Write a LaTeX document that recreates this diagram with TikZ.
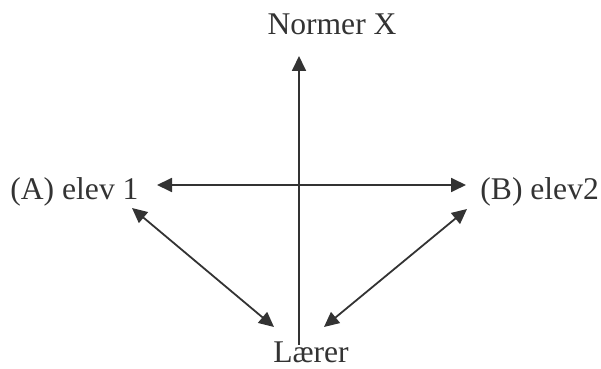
\documentclass[tikz,border=0pt]{standalone}
\usepackage{fontspec}
\setmainfont{Liberation Serif}
\usepackage{tikz}
\usetikzlibrary{arrows.meta}
\definecolor{ink}{HTML}{333333}

\begin{document}
\begin{tikzpicture}
[
    x = 0.5pt, y = -0.5pt,
    label/.style={inner sep = 0pt, text = ink, font = \fontsize{15.8}{19}\selectfont},
    arrow/.style={draw = ink, line width = 0.9pt, {Triangle[length=7.5pt, width=7pt]}-{Triangle[length=7.5pt, width=7pt]}},
    uparrow/.style={draw = ink, line width = 0.9pt, -{Triangle[length=7.5pt, width=7pt]}},
]
\useasboundingbox (0,0) rectangle (601,369);

% Labels
\node[label, anchor = base] (normer) at (332,35) {Normer X};
\node[label, anchor = base west] (elevA) at (10,200) {(A) elev 1};
\node[label, anchor = base west] (elevB) at (480,200) {(B) elev2};
\node[label, anchor = base] (laerer) at (311,363) {Lærer};

% Arrow ends
\coordinate (vbot) at (299,345);
\coordinate (vtop) at (299,56);
\coordinate (hleft) at (157,185);
\coordinate (hright) at (466,185);
\coordinate (aend) at (132,208);
\coordinate (lleft) at (274,327);
\coordinate (lright) at (324,327);
\coordinate (bend) at (467,209);

\draw[uparrow] (vbot) -- (vtop);
\draw[arrow] (hleft) -- (hright);
\draw[arrow] (aend) -- (lleft);
\draw[arrow] (lright) -- (bend);
\end{tikzpicture}
\end{document}
